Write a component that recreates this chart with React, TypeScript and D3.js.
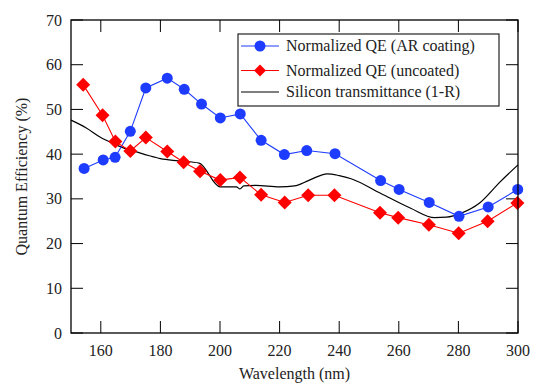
import React from "react";
import * as d3 from "d3";

// wavelength (nm) / normalized QE (%)
const arWl = [154.4, 160.8, 164.8, 169.9, 175.1, 182.3, 188.0, 193.8, 200.1, 206.8, 213.8, 221.6, 229.1, 238.6, 253.9, 260.1, 270.2, 280.2, 290.0, 299.9];
const arQe = [36.8, 38.7, 39.3, 45.1, 54.8, 57.0, 54.5, 51.2, 48.1, 49.0, 43.1, 39.9, 40.8, 40.1, 34.1, 32.1, 29.2, 26.1, 28.2, 32.1];

const unWl = [154.1, 160.6, 164.9, 169.9, 175.1, 182.3, 187.8, 193.3, 200.1, 206.7, 213.8, 221.7, 229.6, 238.4, 253.7, 259.8, 270.1, 280.1, 289.8, 299.8];
const unQe = [55.5, 48.7, 42.8, 40.7, 43.7, 40.6, 38.2, 36.2, 34.2, 34.8, 30.9, 29.2, 30.8, 30.8, 26.9, 25.8, 24.2, 22.3, 25.0, 29.1];

const siWl = [150, 155, 160, 164, 168, 172, 176, 180, 186, 193, 200, 205.5, 206.7, 208, 212, 220, 225, 230, 236, 240, 244, 254, 264, 272, 276, 281, 287, 294, 300];
const siT = [47.6, 45.9, 43.7, 42.4, 41.3, 40.5, 39.7, 39.0, 38.5, 38.0, 32.7, 32.7, 32.2, 32.9, 33.0, 32.7, 32.9, 34.2, 35.6, 35.2, 34.5, 31.2, 27.9, 25.8, 25.9, 26.8, 29.0, 33.8, 37.6];

const xTicks = [160, 180, 200, 220, 240, 260, 280, 300];
const yTicks = [0, 10, 20, 30, 40, 50, 60, 70];

const legendLabels = ["Normalized QE (AR coating)", "Normalized QE (uncoated)", "Silicon transmittance (1-R)"];

const W = 537;
const H = 384;
const m = { left: 71, top: 20, right: 19, bottom: 51 };
const blue = "#1e3cff";
const red = "#ff0000";
const serif = { fontFamily: "'Liberation Serif', 'DejaVu Serif', 'Times New Roman', serif" };

export default function App() {
  const x = d3.scaleLinear().domain([150, 300]).range([m.left, W - m.right]);
  const y = d3.scaleLinear().domain([0, 70]).range([H - m.bottom, m.top]);
  const tick = 12;

  const line = d3
    .line<[number, number]>()
    .x(d => x(d[0]))
    .y(d => y(d[1]));
  const smooth = d3
    .line<[number, number]>()
    .x(d => x(d[0]))
    .y(d => y(d[1]))
    .curve(d3.curveMonotoneX);

  const ar = arWl.map((w, i) => [w, arQe[i]] as [number, number]);
  const un = unWl.map((w, i) => [w, unQe[i]] as [number, number]);
  const si = siWl.map((w, i) => [w, siT[i]] as [number, number]);

  const diamond = (cx, cy, r) => `M${cx},${cy - r}L${cx + r},${cy}L${cx},${cy + r}L${cx - r},${cy}Z`;

  const x0 = x(150), x1 = x(300), y0 = y(0), y1 = y(70);

  const lg = { x: 238, y: 34, w: 261, h: 72 };
  const rows = [46, 70.5, 92];

  return (
    <svg width={W} height={H} style={{ position: "absolute", left: 0, top: 0, background: "#fff" }}>
      {/* ticks */}
      {xTicks.map(t => (
        <g key={"x" + t}>
          <line x1={x(t)} x2={x(t)} y1={y0} y2={y0 - tick} stroke="#000" strokeWidth={1} />
          <line x1={x(t)} x2={x(t)} y1={y1} y2={y1 + tick} stroke="#000" strokeWidth={1} />
          <text x={x(t)} y={y0 + 23} fontSize={16} textAnchor="middle" fill="#222" style={serif}>{t}</text>
        </g>
      ))}
      {yTicks.map(t => (
        <g key={"y" + t}>
          <line x1={x0} x2={x0 + tick} y1={y(t)} y2={y(t)} stroke="#000" strokeWidth={1} />
          <line x1={x1} x2={x1 - tick} y1={y(t)} y2={y(t)} stroke="#000" strokeWidth={1} />
          <text x={x0 - 9} y={y(t) + 5.5} fontSize={16} textAnchor="end" fill="#222" style={serif}>{t}</text>
        </g>
      ))}

      {/* series */}
      <path d={smooth(si)} fill="none" stroke="#000" strokeWidth={1.2} />
      <path d={line(ar)} fill="none" stroke={blue} strokeWidth={1.1} />
      {ar.map((d, i) => (
        <circle key={"a" + i} cx={x(d[0])} cy={y(d[1])} r={5.5} fill={blue} />
      ))}
      <path d={line(un)} fill="none" stroke={red} strokeWidth={1.1} />
      {un.map((d, i) => (
        <path key={"u" + i} d={diamond(x(d[0]), y(d[1]), 7)} fill={red} />
      ))}

      {/* frame */}
      <rect x={x0} y={y1} width={x1 - x0} height={y0 - y1} fill="none" stroke="#000" strokeWidth={1.3} />

      {/* legend */}
      <rect x={lg.x} y={lg.y} width={lg.w} height={lg.h} fill="#fff" stroke="#222" strokeWidth={1.2} />
      <line x1={241} x2={279} y1={rows[0]} y2={rows[0]} stroke={blue} strokeWidth={1.1} />
      <circle cx={260} cy={rows[0]} r={5.5} fill={blue} />
      <line x1={241} x2={279} y1={rows[1]} y2={rows[1]} stroke={red} strokeWidth={1.1} />
      <path d={diamond(260, rows[1], 6)} fill={red} />
      <line x1={241} x2={279} y1={rows[2]} y2={rows[2]} stroke="#000" strokeWidth={1.2} />
      {legendLabels.map((l, i) => (
        <text key={l} x={286} y={rows[i] + 5} fontSize={16} fill="#222" style={serif}>{l}</text>
      ))}

      {/* axis titles */}
      <text x={(x0 + x1) / 2} y={379} fontSize={16} textAnchor="middle" fill="#222" style={serif}>Wavelength (nm)</text>
      <text transform={`translate(27,${(y0 + y1) / 2}) rotate(-90)`} fontSize={16} textAnchor="middle" fill="#222" style={serif}>Quantum Efficiency (%)</text>
    </svg>
  );
}
